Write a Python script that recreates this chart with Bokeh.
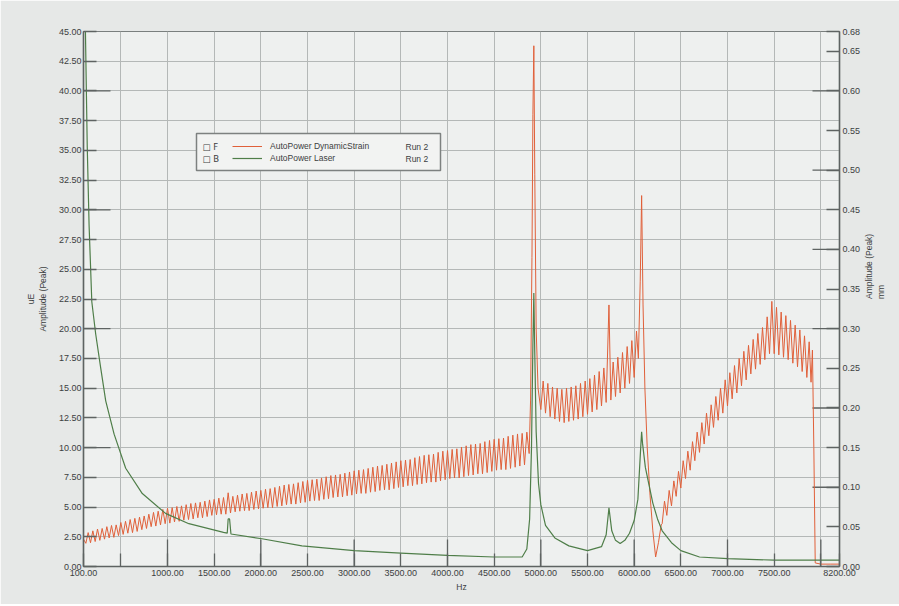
from math import pi
from bokeh.plotting import figure
from bokeh.models import (Range1d, LinearAxis, FixedTicker, Legend, LegendItem,
                          Label, BoxAnnotation, NumeralTickFormatter)
from bokeh.embed import file_html
from bokeh.resources import INLINE

# ---------------- data ----------------
# AutoPower DynamicStrain, Run 2  (left axis, uE) -- in four stretches
red_hz_rise = [100, 125, 150, 175, 200, 225, 250, 275, 300, 325,
               350, 375, 400, 425, 450, 475, 500, 525, 550, 575,
               600, 625, 650, 675, 700, 725, 750, 775, 800, 825,
               850, 875, 900, 925, 950, 975, 1000, 1025, 1050, 1075,
               1100, 1125, 1150, 1175, 1200, 1225, 1250, 1275, 1300, 1325,
               1350, 1375, 1400, 1425, 1450, 1475, 1500, 1525, 1550, 1575,
               1600, 1625, 1650, 1675, 1700, 1725, 1750, 1775, 1800, 1825,
               1850, 1875, 1900, 1925, 1950, 1975, 2000, 2025, 2050, 2075,
               2100, 2125, 2150, 2175, 2200, 2225, 2250, 2275, 2300, 2325,
               2350, 2375, 2400, 2425, 2450, 2475, 2500, 2525, 2550, 2575,
               2600, 2625, 2650, 2675, 2700, 2725, 2750, 2775, 2800, 2825,
               2850, 2875, 2900, 2925, 2950, 2975, 3000, 3025, 3050, 3075,
               3100, 3125, 3150, 3175, 3200, 3225, 3250, 3275, 3300, 3325,
               3350, 3375, 3400, 3425, 3450, 3475, 3500, 3525, 3550, 3575,
               3600, 3625, 3650, 3675, 3700, 3725, 3750, 3775, 3800, 3825,
               3850, 3875, 3900, 3925, 3950, 3975, 4000, 4025, 4050, 4075,
               4100, 4125, 4150, 4175, 4200, 4225, 4250, 4275, 4300, 4325,
               4350, 4375, 4400, 4425, 4450, 4475, 4500, 4525, 4550, 4575,
               4600, 4625, 4650, 4675, 4700, 4725, 4750, 4775, 4800, 4825,
               4850]
red_amp_rise = [2.3, 1.95, 2.85, 2.0, 3.0, 2.1, 3.15, 2.2, 3.2, 2.3,
                3.35, 2.4, 3.45, 2.45, 3.5, 2.6, 3.7, 2.7, 3.8, 2.8,
                3.95, 2.85, 4.05, 2.95, 4.15, 3.1, 4.25, 3.2, 4.4, 3.35,
                4.55, 3.4, 4.65, 3.5, 4.8, 3.6, 4.9, 3.65, 4.95, 3.75,
                5.05, 3.8, 5.1, 3.9, 5.2, 3.95, 5.3, 4.0, 5.35, 4.1,
                5.4, 4.1, 5.5, 4.2, 5.6, 4.3, 5.65, 4.35, 5.75, 4.4,
                5.8, 4.4, 6.2, 4.5, 5.9, 4.6, 6.0, 4.65, 6.1, 4.7,
                6.15, 4.7, 6.25, 4.8, 6.35, 4.85, 6.4, 4.9, 6.5, 4.95,
                6.55, 4.95, 6.65, 5.05, 6.75, 5.1, 6.85, 5.2, 6.9, 5.25,
                6.95, 5.25, 7.05, 5.35, 7.15, 5.4, 7.25, 5.5, 7.3, 5.55,
                7.35, 5.55, 7.45, 5.65, 7.55, 5.7, 7.65, 5.8, 7.7, 5.85,
                7.75, 5.85, 7.85, 5.95, 7.95, 6.0, 8.05, 6.1, 8.1, 6.15,
                8.15, 6.15, 8.25, 6.25, 8.35, 6.3, 8.45, 6.4, 8.5, 6.45,
                8.6, 6.45, 8.7, 6.55, 8.8, 6.65, 8.9, 6.7, 8.95, 6.8,
                9.0, 6.8, 9.15, 6.9, 9.25, 6.95, 9.35, 7.05, 9.4, 7.1,
                9.45, 7.1, 9.6, 7.2, 9.7, 7.3, 9.75, 7.4, 9.85, 7.45,
                9.9, 7.45, 10.05, 7.55, 10.15, 7.65, 10.25, 7.7, 10.3, 7.8,
                10.35, 7.8, 10.5, 7.9, 10.6, 8.0, 10.7, 8.1, 10.75, 8.15,
                10.8, 8.15, 10.95, 8.25, 11.05, 8.35, 11.15, 8.45, 11.2, 8.55,
                11.3]
red_hz_peak = [4875, 4890, 4905, 4915, 4925, 4935, 4950, 4970]
red_amp_peak = [9.5, 14.0, 26.0, 38.0, 43.8, 33.0, 20.0, 15.0]
red_hz_mid = [5000, 5025, 5050, 5075, 5100, 5125, 5150, 5175, 5200, 5225,
              5250, 5275, 5300, 5325, 5350, 5375, 5400, 5425, 5450, 5475,
              5500, 5525, 5550, 5575, 5600, 5625, 5650, 5675, 5700, 5730,
              5750, 5775, 5800, 5825, 5850, 5875, 5900, 5925, 5950, 5975,
              6000, 6025, 6045, 6065, 6080, 6095, 6115, 6140, 6170, 6200,
              6230, 6260, 6290]
red_amp_mid = [13.2, 15.6, 12.9, 15.4, 12.6, 15.1, 12.4, 15.0, 12.2, 14.9,
               12.1, 15.0, 12.2, 15.1, 12.3, 15.2, 12.4, 15.4, 12.6, 15.6,
               12.8, 15.8, 13.0, 16.1, 13.2, 16.4, 13.5, 16.7, 13.8, 22.0,
               14.0, 17.2, 14.3, 17.6, 14.6, 18.0, 15.0, 18.5, 15.4, 19.0,
               15.9, 19.8, 17.5, 24.0, 31.2, 22.0, 15.0, 10.0, 6.0, 3.0,
               0.8, 2.0, 3.5]
red_hz_high = [6300, 6325, 6350, 6375, 6400, 6425, 6450, 6475, 6500, 6525,
               6550, 6575, 6600, 6625, 6650, 6675, 6700, 6725, 6750, 6775,
               6800, 6825, 6850, 6875, 6900, 6925, 6950, 6975, 7000, 7025,
               7050, 7075, 7100, 7125, 7150, 7175, 7200, 7225, 7250, 7275,
               7300, 7325, 7350, 7375, 7400, 7425, 7450, 7475, 7500, 7525,
               7550, 7575, 7600, 7625, 7650, 7675, 7700, 7725, 7750, 7775,
               7800, 7825, 7850, 7875, 7895, 7910, 7925, 7940, 8000, 8100, 8200]
red_amp_high = [3.6, 5.5, 4.3, 6.4, 5.1, 7.2, 5.9, 8.0, 6.6, 8.9,
                7.4, 9.7, 8.1, 10.5, 8.9, 11.3, 9.6, 12.1, 10.3, 12.9,
                11.0, 13.6, 11.7, 14.3, 12.3, 15.0, 12.9, 15.7, 13.5, 16.3,
                14.1, 16.9, 14.6, 17.5, 15.2, 18.1, 15.7, 18.6, 16.2, 19.1,
                16.6, 19.6, 17.0, 20.1, 17.4, 21.0, 17.9, 22.3, 17.9, 21.8,
                17.8, 21.4, 17.6, 21.1, 17.4, 20.7, 17.1, 20.3, 16.8, 19.9,
                16.4, 19.4, 15.9, 18.9, 15.5, 18.2, 10.0, 0.3, 0.2, 0.2, 0.2]

red_hz = red_hz_rise + red_hz_peak + red_hz_mid + red_hz_high
red_amp = red_amp_rise + red_amp_peak + red_amp_mid + red_amp_high
assert len(red_hz) == len(red_amp), (len(red_hz), len(red_amp))

# AutoPower Laser, Run 2  (right axis, mm)
green_hz = [100, 120, 140, 160, 189, 231, 285, 338, 428, 552, 730, 979, 1229, 1600, 1640,
            1650, 1665, 1680, 2012, 2440, 3000, 3500, 4000, 4500, 4800, 4850, 4880, 4900,
            4915, 4925, 4935, 4950, 4975, 5000, 5050, 5150, 5300, 5500, 5650, 5700, 5730,
            5760, 5800, 5850, 5900, 5950, 6000, 6040, 6070, 6080, 6090, 6120, 6150, 6200,
            6250, 6300, 6400, 6500, 6700, 7000, 7500, 8000, 8200]
green_amp = [0.95, 0.68, 0.53, 0.43, 0.334, 0.293, 0.25, 0.209, 0.167, 0.124, 0.092, 0.067,
             0.054, 0.043, 0.042, 0.06, 0.06, 0.041, 0.035, 0.026, 0.02, 0.017, 0.014, 0.012,
             0.012, 0.022, 0.06, 0.15, 0.28, 0.345, 0.27, 0.17, 0.105, 0.078, 0.052, 0.036,
             0.026, 0.02, 0.025, 0.04, 0.074, 0.045, 0.033, 0.029, 0.033, 0.042, 0.058, 0.085,
             0.15, 0.17, 0.155, 0.125, 0.108, 0.08, 0.06, 0.045, 0.03, 0.02, 0.012, 0.01,
             0.008, 0.008, 0.008]
assert len(green_hz) == len(green_amp)

# axis ticks
x_ticks = [100, 500, 1000, 1500, 2000, 2500, 3000, 3500, 4000, 4500, 5000, 5500, 6000,
           6500, 7000, 7500, 8000, 8200]
x_hidden = [500, 8000]
x_long = [1000, 2000, 3000, 4000, 5000, 6000, 7000, 8000]
yl_ticks = [0, 2.5, 5, 7.5, 10, 12.5, 15, 17.5, 20, 22.5, 25, 27.5, 30, 32.5, 35, 37.5,
            40, 42.5, 45]
yl_long = [10, 20, 30, 40]
yr_ticks = [0.0, 0.05, 0.1, 0.15, 0.2, 0.25, 0.3, 0.35, 0.4, 0.45, 0.5, 0.55, 0.6, 0.65, 0.675]
yr_top_label = "0.68"
yr_long = [0.1, 0.2, 0.3, 0.4, 0.5, 0.6]

series_names = ["AutoPower DynamicStrain", "AutoPower Laser"]
series_keys = ["F", "B"]
series_run = ["Run 2", "Run 2"]

# ---------------- styling ----------------
RED = "#e0603a"
GREEN = "#4f7e49"
AXIS = "#5e6362"
TXT = "#3c403f"
FONT = "Liberation Sans"

X0, X1 = 100, 8200
YL0, YL1 = 0, 45
YR0, YR1 = 0, 0.675
FW, FH = 756, 535

p = figure(frame_width=FW, frame_height=FH,
           min_border_left=83, min_border_top=31, min_border_right=58, min_border_bottom=38,
           x_range=Range1d(X0, X1), y_range=Range1d(YL0, YL1),
           output_backend="svg", toolbar_location=None)
p.extra_y_ranges = {"right": Range1d(YR0, YR1)}

p.background_fill_color = "#eef0ef"
p.border_fill_color = "#e6e8e7"
p.outline_line_color = "#7a7f7e"
p.outline_line_width = 1.2

# grid
p.xgrid.ticker = FixedTicker(ticks=[t for t in x_ticks if t not in (X0, X1)])
p.ygrid.ticker = FixedTicker(ticks=yl_ticks)
for g in (p.xgrid, p.ygrid):
    g.grid_line_color = "#b4b8b7"
    g.grid_line_width = 1

def style_axis(ax):
    ax.axis_line_color = AXIS
    ax.axis_line_width = 1.5
    ax.major_tick_line_color = AXIS
    ax.major_tick_line_width = 1.3
    ax.major_tick_in = 13
    ax.major_tick_out = 0
    ax.minor_tick_line_color = None
    ax.major_label_text_font = FONT
    ax.major_label_text_font_size = "9px"
    ax.major_label_text_color = TXT
    ax.axis_label_text_font = FONT
    ax.axis_label_text_font_size = "8.5px"
    ax.axis_label_text_font_style = "normal"
    ax.axis_label_text_color = TXT

# bottom axis
xa = p.xaxis[0]
xa.ticker = FixedTicker(ticks=x_ticks, minor_ticks=[])
xa.formatter = NumeralTickFormatter(format="0.00")
xa.major_label_overrides = {t: "" for t in x_hidden}
xa.axis_label = "Hz"
style_axis(xa)
xa.major_label_standoff = 3
xa.axis_label_standoff = 3

# left axis
ya = p.yaxis[0]
ya.ticker = FixedTicker(ticks=yl_ticks, minor_ticks=[])
ya.formatter = NumeralTickFormatter(format="0.00")
ya.axis_label = "uE\nAmplitude (Peak)"
style_axis(ya)
ya.major_label_standoff = 2
ya.axis_label_standoff = 8

# right axis
ra = LinearAxis(y_range_name="right")
ra.ticker = FixedTicker(ticks=yr_ticks, minor_ticks=[])
ra.formatter = NumeralTickFormatter(format="0.00")
ra.major_label_overrides = {yr_ticks[-1]: yr_top_label}
style_axis(ra)
ra.major_label_standoff = 3
ra.axis_label_standoff = 12
if "axis_label_orientation" in ra.properties():
    ra.axis_label = "Amplitude (Peak)\nmm"
    ra.axis_label_orientation = pi / 2
else:
    ra.axis_label = "mm\nAmplitude (Peak)"
p.add_layout(ra, "right")

# longer inner tick marks every 10 units / 1000 Hz / 0.1 mm
long_len_y = 27 * (YL1 - YL0) / FH
long_len_x = 27 * (X1 - X0) / FW
p.segment(x0=x_long, x1=x_long, y0=[YL0] * len(x_long), y1=[YL0 + long_len_y] * len(x_long),
          line_color=AXIS, line_width=1.3)
p.segment(x0=[X0] * len(yl_long), x1=[X0 + long_len_x] * len(yl_long), y0=yl_long, y1=yl_long,
          line_color=AXIS, line_width=1.3)
p.segment(x0=[X1 - long_len_x] * len(yr_long), x1=[X1] * len(yr_long), y0=yr_long, y1=yr_long,
          line_color=AXIS, line_width=1.3, y_range_name="right")

# data lines
r_red = p.line(red_hz, red_amp, line_color=RED, line_width=1.0)
r_green = p.line(green_hz, green_amp, line_color=GREEN, line_width=1.2, y_range_name="right")

# legend box
box = BoxAnnotation(left=113, right=357, bottom=396, top=433,
                    left_units="screen", right_units="screen",
                    top_units="screen", bottom_units="screen",
                    fill_color="#f2f3f2", fill_alpha=1.0,
                    line_color="#7d8180", line_width=1.5, line_alpha=1.0)
p.add_layout(box)

legend = Legend(items=[LegendItem(label=series_names[0], renderers=[r_red]),
                       LegendItem(label=series_names[1], renderers=[r_green])],
                location=(149, 402), padding=0, margin=0, spacing=0,
                glyph_width=30, glyph_height=12, label_height=12, label_standoff=8,
                label_text_font=FONT, label_text_font_size="8.5px", label_text_color=TXT,
                border_line_alpha=0, background_fill_alpha=0)
p.add_layout(legend)

for i, yy in enumerate([420, 408]):
    p.add_layout(Label(x=119, y=yy, x_units="screen", y_units="screen",
                       text="\u25a1 " + series_keys[i], text_font="DejaVu Sans",
                       text_font_size="8.5px", text_color=TXT, text_baseline="middle"))
    p.add_layout(Label(x=322, y=yy, x_units="screen", y_units="screen",
                       text=series_run[i], text_font=FONT,
                       text_font_size="8.5px", text_color=TXT, text_baseline="middle"))

open("out.html", "w").write(file_html(p, INLINE))
